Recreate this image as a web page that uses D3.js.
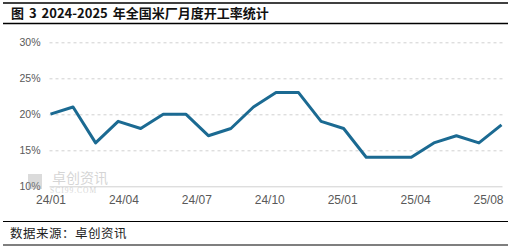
<!DOCTYPE html>
<html>
<head>
<meta charset="utf-8">
<script src="https://cdn.jsdelivr.net/npm/d3@7"></script>
<style>
  html, body { margin: 0; padding: 0; background: #fff; }
  svg { display: block; }
</style>
</head>
<body>
<div id="chart"></div>
<script>
// monthly utilisation rate of rice mills, %
const rates = [20, 21, 16, 19, 18, 20, 20, 17, 18, 21, 23, 23, 19, 18, 14, 14, 14, 16, 17, 16, 18.5];
const xTickLabels = ['24/01', '24/04', '24/07', '24/10', '25/01', '25/04', '25/08'];
const yTicks = [10, 15, 20, 25, 30];

const title = '图 3 2024-2025 年全国米厂月度开工率统计';
const source = '数据来源：卓创资讯';

const width = 514;
const height = 247;

const margin = { top: 42.3, bottom: 61, left: 50.5, right: 12.5 };

const svg = d3.select('#chart')
    .append('svg')
    .attr('width', width)
    .attr('height', height);

// header / footer rules
svg.append('line')
    .attr('x1', 3).attr('x2', 508).attr('y1', 3).attr('y2', 3)
    .attr('stroke', '#000').attr('stroke-width', 1.5);
svg.append('line')
    .attr('x1', 3).attr('x2', 508).attr('y1', 23.5).attr('y2', 23.5)
    .attr('stroke', '#000').attr('stroke-width', 1.5);
svg.append('text')
    .attr('x', 11).attr('y', 18)
    .style('font-family', '"Noto Sans CJK SC", sans-serif')
    .style('font-size', '13px')
    .style('font-weight', 'bold')
    .style('word-spacing', '2px')
    .attr('fill', '#111')
    .text(title);

svg.append('line')
    .attr('x1', 3).attr('x2', 508).attr('y1', 221.5).attr('y2', 221.5)
    .attr('stroke', '#000').attr('stroke-width', 1.2);
svg.append('line')
    .attr('x1', 3).attr('x2', 508).attr('y1', 245).attr('y2', 245)
    .attr('stroke', '#000').attr('stroke-width', 1.2);
svg.append('text')
    .attr('x', 10).attr('y', 238)
    .style('font-family', '"Noto Sans CJK SC", sans-serif')
    .style('font-size', '12.5px')
    .style('letter-spacing', '0.5px')
    .attr('fill', '#222')
    .text(source);

const plotW = width - margin.left - margin.right;
const plotH = height - margin.top - margin.bottom;

const chart = svg.append('g')
    .attr('transform', `translate(${margin.left},${margin.top})`);

const xScale = d3.scalePoint()
    .domain(d3.range(rates.length))
    .range([0, plotW]);

const xLabelScale = d3.scalePoint()
    .domain(xTickLabels)
    .range([0, 437.5]);

const yScale = d3.scaleLinear()
    .domain([10, 30])
    .range([plotH, 0]);

// watermark
const wm = svg.append('g').attr('opacity', 0.35);
wm.append('rect').attr('x', 28).attr('y', 174).attr('width', 14).attr('height', 15).attr('fill', '#9a9a9a');
wm.append('text')
    .attr('x', 52).attr('y', 183)
    .style('font-family', '"Noto Sans CJK SC", sans-serif')
    .style('font-size', '14px')
    .attr('fill', '#8a8a8a')
    .text('卓创资讯');
wm.append('text')
    .attr('x', 50).attr('y', 193)
    .style('font-family', '"Liberation Serif", serif')
    .style('font-size', '7.5px')
    .style('letter-spacing', '1px')
    .attr('fill', '#8a8a8a')
    .text('SCI99.COM');

// gridlines
chart.append('g')
    .selectAll('line')
    .data(yTicks.filter(d => d > 10))
    .enter()
    .append('line')
    .attr('x1', -1)
    .attr('x2', plotW + 1)
    .attr('y1', d => Math.round(yScale(d)) + 0.5)
    .attr('y2', d => Math.round(yScale(d)) + 0.5)
    .attr('stroke', '#d0d0d0')
    .attr('stroke-width', 1)
    .attr('stroke-dasharray', '3,3');

// baseline
chart.append('line')
    .attr('x1', -1).attr('x2', plotW + 1)
    .attr('y1', Math.round(yScale(10)) + 0.5)
    .attr('y2', Math.round(yScale(10)) + 0.5)
    .attr('stroke', '#d0d0d0');

// y axis labels
const yAxis = d3.axisLeft(yScale)
    .tickValues(yTicks)
    .tickSize(0)
    .tickPadding(10)
    .tickFormat(d => d + '%');
chart.append('g')
    .call(yAxis)
    .call(g => g.select('.domain').remove())
    .selectAll('text')
    .style('font-family', '"Liberation Sans", sans-serif')
    .style('font-size', '10.5px')
    .attr('fill', '#595959');

// x axis labels
const xAxis = d3.axisBottom(xLabelScale)
    .tickSize(0)
    .tickPadding(9);
chart.append('g')
    .attr('transform', `translate(0,${plotH})`)
    .call(xAxis)
    .call(g => g.select('.domain').remove())
    .selectAll('text')
    .style('font-family', '"Liberation Sans", sans-serif')
    .style('font-size', '12px')
    .attr('fill', '#595959');

// the line
const line = d3.line()
    .x((d, i) => xScale(i))
    .y(d => yScale(d));

chart.append('path')
    .datum(rates)
    .attr('d', line)
    .attr('fill', 'none')
    .attr('stroke', '#1b6a92')
    .attr('stroke-width', 3)
    .attr('stroke-linejoin', 'round');
</script>
</body>
</html>
